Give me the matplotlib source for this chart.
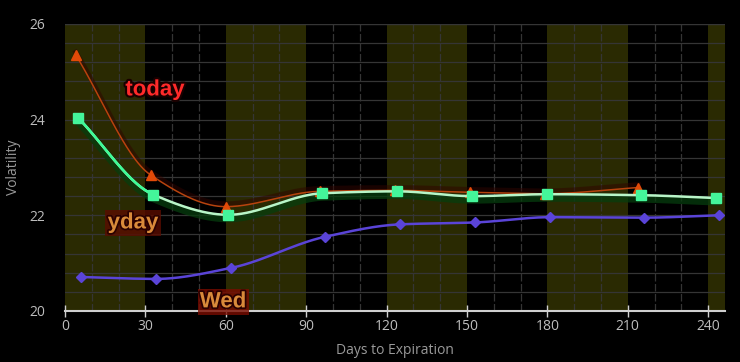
import numpy as np
import matplotlib
matplotlib.use("Agg")
import matplotlib.pyplot as plt
import matplotlib.patheffects as pe

# ---- data ----
today_x = [4, 32, 60, 95, 123, 151, 179, 214]
today_y = [25.35, 22.84, 22.18, 22.50, 22.52, 22.48, 22.45, 22.58]
yday_x = [5, 33, 61, 96, 124, 152, 180, 215, 243]
yday_y = [24.03, 22.43, 22.01, 22.46, 22.50, 22.40, 22.44, 22.42, 22.36]
wed_x = [6, 34, 62, 97, 125, 153, 181, 216, 244]
wed_y = [20.71, 20.67, 20.90, 21.55, 21.81, 21.85, 21.96, 21.95, 22.00]
xticks = [0, 30, 60, 90, 120, 150, 180, 210, 240]
yticks = [20, 22, 24, 26]


def pchip(x, y, n=400):
    x = np.asarray(x, float)
    y = np.asarray(y, float)
    h = np.diff(x)
    d = np.diff(y) / h
    m = np.zeros_like(y)
    for i in range(1, len(x) - 1):
        if d[i - 1] * d[i] > 0:
            w1 = 2 * h[i] + h[i - 1]
            w2 = h[i] + 2 * h[i - 1]
            m[i] = (w1 + w2) / (w1 / d[i - 1] + w2 / d[i])
    m[0] = d[0]
    m[-1] = d[-1]
    xs = np.linspace(x[0], x[-1], n)
    idx = np.clip(np.searchsorted(x, xs) - 1, 0, len(x) - 2)
    t = (xs - x[idx]) / h[idx]
    h00 = 2 * t**3 - 3 * t**2 + 1
    h10 = t**3 - 2 * t**2 + t
    h01 = -2 * t**3 + 3 * t**2
    h11 = t**3 - t**2
    ys = h00 * y[idx] + h10 * h[idx] * m[idx] + h01 * y[idx + 1] + h11 * h[idx] * m[idx + 1]
    return xs, ys


fig = plt.figure(figsize=(7.4, 3.62), dpi=100, facecolor="black")
ax = fig.add_axes([0.0878, 0.141, 0.892, 0.793])
ax.set_facecolor("black")
ax.set_xlim(0, 246.3)
ax.set_ylim(20, 26)

# bands
for start in range(0, 247, 60):
    ax.axvspan(start, min(start + 30, 246.3), color="#2a2a02", zorder=0, lw=0)

# grid
for yv in np.arange(20.4, 26.0, 0.4):
    ax.axhline(yv, color="#353535", lw=0.9, zorder=1)
ax.axhline(26, color="#353535", lw=0.9, zorder=1)
for xv in range(10, 246, 10):
    if xv % 30 == 0:
        continue
    ax.axvline(xv, color="#353535", lw=0.9, ls=(0, (6, 2)), zorder=1)

# Wed
xs, ys = pchip(wed_x, wed_y)
ax.plot(xs, ys, color="#5a44d8", lw=1.8, zorder=3)
ax.plot(wed_x, wed_y, ls="none", marker="D", ms=5, color="#5a44d8", zorder=4)

# yday
xs, ys = pchip(yday_x, yday_y)
ax.plot(xs, ys - 0.07, color="#063d0e", lw=6, alpha=0.75, zorder=3)
ax.plot(xs, ys, color="#b8f5c8", lw=1.8, zorder=5)
cut = np.searchsorted(xs, yday_x[1]) + 1
ax.plot(xs[:cut], ys[:cut], color="#3dfc97", lw=1.8, zorder=5)
ax.plot(yday_x, yday_y, ls="none", marker="s", ms=7, color="#44f59a", zorder=6)

# today
xs, ys = pchip(today_x, today_y)
ax.plot(xs, ys + 0.06, color="#300400", lw=3.5, alpha=0.5, zorder=3)
ax.plot(xs, ys, color="#b8430e", lw=1.1, zorder=4)
ax.plot(today_x, today_y, ls="none", marker="^", ms=7, color="#e24a08", zorder=4)

# labels
ax.text(33.6, 24.62, "today", color="#ff2a2a", fontsize=16, fontweight="bold",
        family="Liberation Sans", ha="center", va="center", zorder=8,
        path_effects=[pe.withStroke(linewidth=3, foreground="#1a0000")])
ax.text(25.4, 21.84, "yday", color="#d98a3a", fontsize=16, fontweight="bold",
        family="Liberation Sans", ha="center", va="center", zorder=8,
        bbox=dict(boxstyle="square,pad=0.1", fc="#5a0c00", ec="none", alpha=0.8),
        path_effects=[pe.withStroke(linewidth=2.5, foreground="#2a0000")])
ax.text(59, 20.19, "Wed", color="#d98a3a", fontsize=16, fontweight="bold",
        family="Liberation Sans", ha="center", va="center", zorder=8,
        bbox=dict(boxstyle="square,pad=0.1", fc="#7a0c00", ec="none", alpha=0.8),
        path_effects=[pe.withStroke(linewidth=2.5, foreground="#2a0000")])

# axes
for s in ["top", "right", "left"]:
    ax.spines[s].set_visible(False)
ax.spines["bottom"].set_color("#cfcfcf")
ax.spines["bottom"].set_linewidth(1.5)
ax.set_xticks(xticks)
ax.set_yticks(yticks)
ax.tick_params(axis="x", colors="#cfcfcf", direction="inout", length=8, width=1,
               labelsize=10, labelcolor="#bdbdbd", pad=2)
ax.tick_params(axis="y", length=0, labelsize=10, labelcolor="#bdbdbd", pad=14)
for lab in ax.get_xticklabels() + ax.get_yticklabels():
    lab.set_family("Open Sans")
ax.set_xlabel("Days to Expiration", color="#9a9a9a", fontsize=10, labelpad=6,
              family="Open Sans")
ax.set_ylabel("Volatility", color="#9a9a9a", fontsize=10, labelpad=6,
              family="Open Sans")
ax.set_axisbelow(False)

fig.savefig("out.png", dpi=100, facecolor="black")
